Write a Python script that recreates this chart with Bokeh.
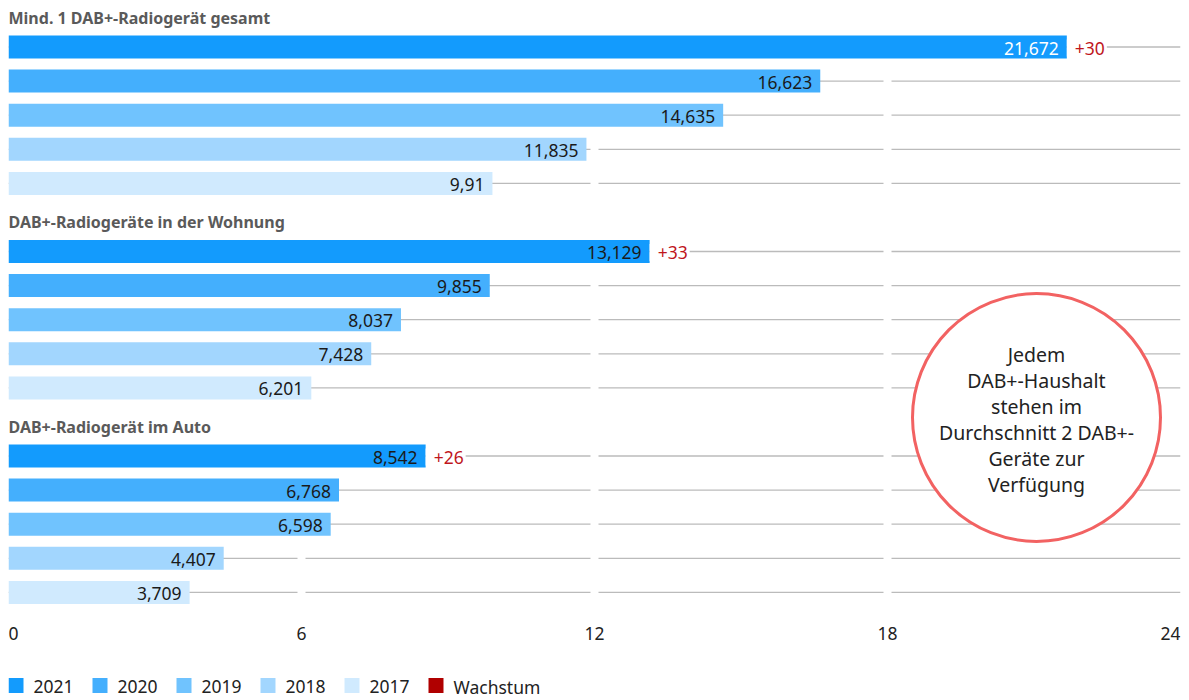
from bokeh.plotting import figure
from bokeh.models import Range1d, ColumnDataSource
from bokeh.core.properties import value
from bokeh.embed import file_html
from bokeh.resources import INLINE

# ---- data ----
group_titles = ["Mind. 1 DAB+-Radiogerät gesamt",
                "DAB+-Radiogeräte in der Wohnung",
                "DAB+-Radiogerät im Auto"]
years = ["2021", "2020", "2019", "2018", "2017"]
vals_gesamt = [21.672, 16.623, 14.635, 11.835, 9.91]
vals_wohnung = [13.129, 9.855, 8.037, 7.428, 6.201]
vals_auto = [8.542, 6.768, 6.598, 4.407, 3.709]
growth = ["+30", "+33", "+26"]
growth_legend = "Wachstum"
ticks = [0, 6, 12, 18, 24]
note = "Jedem\nDAB+-Haushalt\nstehen im\nDurchschnitt 2 DAB+-\nGeräte zur\nVerfügung"

# ---- style ----
FONT = "Noto Sans"
NUM_SIZE = "17.5px"
year_colors = ["#139bfd", "#44affd", "#70c3fe", "#a2d6fe", "#d0eafe"]
growth_color = "#c0161c"
legend_growth_color = "#b00000"
line_gray = "#bbbbbb"

W, H = 1189, 700
LEFT, RIGHT = 8, 9
FIRST_ROW = 46.5
ROW_STEP = 34.1
GROUP_STEP = 204.5
TITLE_OFF = -29.5
BAR_H = 23

p = figure(width=W, height=H, output_backend="svg", toolbar_location=None,
           x_axis_location=None, y_axis_location=None,
           min_border_left=LEFT, min_border_right=RIGHT, min_border_top=0,
           min_border_bottom=0,
           x_range=Range1d(ticks[0], ticks[-1]), y_range=Range1d(H, 0))
p.outline_line_color = None
p.grid.visible = False
p.background_fill_color = "white"

frame_w = W - LEFT - RIGHT
def px_to_x(px):
    return (px - LEFT) * (ticks[-1] - ticks[0]) / frame_w + ticks[0]

all_vals = [vals_gesamt, vals_wohnung, vals_auto]

# row positions
row_y = {}
for g in range(3):
    for r in range(5):
        row_y[(g, r)] = FIRST_ROW + g * GROUP_STEP + r * ROW_STEP

# gray horizontal lines
ys = [row_y[(g, r)] for g in range(3) for r in range(5)]
p.segment(x0=[ticks[0]] * len(ys), x1=[ticks[-1]] * len(ys), y0=ys, y1=ys,
          line_color=line_gray, line_width=1.3)

# white vertical gaps at inner ticks
inner = ticks[1:-1]
p.segment(x0=inner, x1=inner, y0=[25] * len(inner), y1=[610] * len(inner),
          line_color="white", line_width=8)

# bars, one renderer per year
for r, yr in enumerate(years):
    src = ColumnDataSource(dict(
        y=[row_y[(g, r)] for g in range(3)],
        v=[all_vals[g][r] for g in range(3)],
    ))
    p.hbar(y="y", left=0, right="v", height=BAR_H, source=src,
           fill_color=year_colors[r], line_color=None)

# value labels
lx, ly, lt, lc = [], [], [], []
for g in range(3):
    for r in range(5):
        v = all_vals[g][r]
        lx.append(v)
        ly.append(row_y[(g, r)])
        lt.append(str(v).replace(".", ","))
        lc.append("white" if (g == 0 and r == 0) else "#1a1a1a")
p.text(x=lx, y=ly, text=lt, text_color=lc, text_align="right",
       text_baseline="middle", x_offset=-8, y_offset=1,
       text_font=value(FONT), text_font_size=NUM_SIZE)

# growth labels (white box hides the row line from bar end to label end)
p.text(x=[all_vals[g][0] for g in range(3)], y=[row_y[(g, 0)] for g in range(3)],
       text=growth, text_color=growth_color, text_align="left",
       text_baseline="middle", x_offset=0, y_offset=1,
       text_font=value(FONT), text_font_size=NUM_SIZE,
       background_fill_color="white",
       padding=dict(left=8, right=2, top=2, bottom=2))

# group titles
p.text(x=[0, 0, 0], y=[row_y[(g, 0)] + TITLE_OFF for g in range(3)],
       text=group_titles, text_color="#5a5a5a", text_align="left",
       text_baseline="middle", text_font=value(FONT), text_font_size="16px",
       text_font_style="bold")

# x tick labels
aligns = ["left"] + ["center"] * (len(ticks) - 2) + ["right"]
p.text(x=ticks, y=[633] * len(ticks), text=[str(t) for t in ticks],
       text_align=aligns, text_baseline="middle", text_color="#222222",
       text_font=value(FONT), text_font_size=NUM_SIZE)

# note circle
p.scatter(x=[px_to_x(1036)], y=[417], marker="circle", size=248,
          fill_color="white", line_color="#f26262", line_width=3)
p.text(x=[px_to_x(1036)], y=[419], text=[note], text_align="center",
       text_baseline="middle", text_color="#222222",
       text_font=value(FONT), text_font_size="19.5px", text_line_height=0.97)

# legend (drawn manually: squares + labels)
LEG_Y = 685
LEG_STEP = 84
leg_labels = years + [growth_legend]
leg_colors = year_colors + [legend_growth_color]
sq_x = [px_to_x(LEFT + 7.5 + i * LEG_STEP) for i in range(len(leg_labels))]
tx_x = [px_to_x(LEFT + 25 + i * LEG_STEP) for i in range(len(leg_labels))]
p.scatter(x=sq_x, y=[LEG_Y] * len(sq_x), marker="square", size=15,
          fill_color=leg_colors, line_color=None)
p.text(x=tx_x, y=[LEG_Y + 1] * len(tx_x), text=leg_labels, text_align="left",
       text_baseline="middle", text_color="#222222",
       text_font=value(FONT), text_font_size=NUM_SIZE)

open("out.html", "w").write(file_html(p, INLINE))
